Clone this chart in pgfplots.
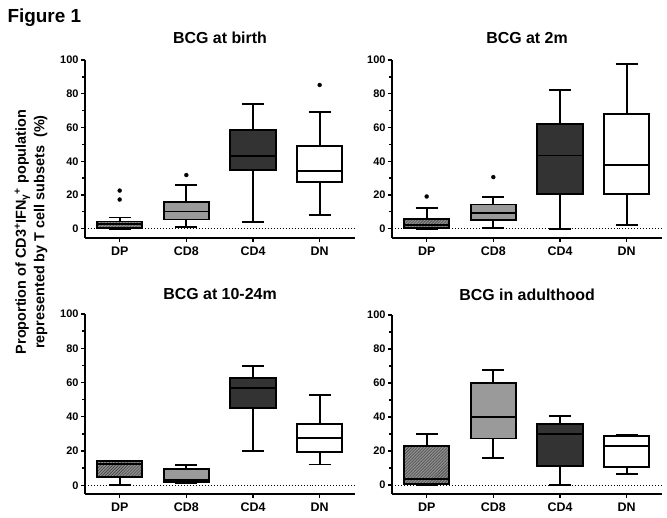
\documentclass[border=0pt]{standalone}
\usepackage{fontspec}
\setmainfont{Liberation Sans}
\usepackage{pgfplots}
\pgfplotsset{compat=1.18}
\usepgfplotslibrary{statistics}
\usetikzlibrary{patterns}

\definecolor{cdeight}{HTML}{9A9A9A}
\definecolor{cdfour}{HTML}{333333}
\definecolor{dpfill}{HTML}{8E8E8E}

\pgfplotsset{
  panel/.style={
    scale only axis, width=270bp, height=#1,
    xmin=-0.52, xmax=3.53, ymin=-5.5, ymax=100,
    axis x line=bottom, axis y line=left,
    axis line style={-, line width=1.7pt, black},
    xtick={0,1,2,3}, xticklabels={DP,CD8,CD4,DN},
    ytick={0,20,...,100}, minor y tick num=1,
    tick align=outside, major tick length=4bp, minor tick length=3bp,
    tick style={line width=1.3pt, black},
    x tick label style={font=\bfseries\fontsize{12.5}{12.5}\selectfont, yshift=-1bp},
    y tick label style={font=\bfseries\fontsize{11}{11}\selectfont, xshift=1bp},
    /pgf/number format/assume math mode=true,
    title style={at={(0.5,1)}, anchor=base, font=\bfseries\fontsize{16}{16}\selectfont},
    clip=false,
  },
  bx/.style={boxplot prepared={draw direction=y, box extend=0.68, whisker extend=0.33, #1},
    draw=black, line width=1.8pt, solid, mark=*, mark size=2pt,
    mark options={fill=black, draw=black, line width=0.3pt},
    /pgfplots/boxplot/every median/.style={line width=1.8pt, draw=black},
    /pgfplots/boxplot/every whisker/.style={line width=1.8pt, draw=black}},
  dp/.style={/pgfplots/boxplot/every box/.style={line width=1.8pt, draw=black, fill=dpfill, postaction={pattern=north east lines, pattern color=black!80}}},
  ceight/.style={/pgfplots/boxplot/every box/.style={line width=1.8pt, draw=black, fill=cdeight}},
  cfour/.style={/pgfplots/boxplot/every box/.style={line width=1.8pt, draw=black, fill=cdfour}},
  dn/.style={/pgfplots/boxplot/every box/.style={line width=1.8pt, draw=black, fill=white}},
  zeroline/.style={black, line width=0.9pt, dash pattern=on 0.9pt off 2.1pt},
}

\begin{document}
\begin{tikzpicture}
\useasboundingbox (0,0) rectangle (667bp,-518bp);

\node[anchor=base west, font=\bfseries\fontsize{19}{19}\selectfont] at (4bp,-22bp) {Figure 1};

\node[rotate=90, align=center, font=\bfseries\fontsize{14.5}{18.5}\selectfont] at (31bp,-232bp)
  {Proportion of CD3\textsuperscript{+}IFN\textsubscript{γ}\textsuperscript{+} population\\represented by T cell subsets\ \ (\%)};

% ---- BCG at birth
\begin{axis}[panel=178bp, at={(85bp,-238bp)}, anchor=south west,
  title={BCG at birth}, title style={yshift=11bp}]
\addplot[zeroline] coordinates {(-0.47,0) (3.53,0)};
\addplot[bx={draw position=0, lower whisker=0, lower quartile=0.2, median=2.7, upper quartile=4.3, upper whisker=6.7}, dp]
  table[row sep=\\, y index=0] {17.3\\ 22.6\\};
\addplot[bx={draw position=1, lower whisker=0.8, lower quartile=5.5, median=10.2, upper quartile=16, upper whisker=26}, ceight]
  table[row sep=\\, y index=0] {31.8\\};
\addplot[bx={draw position=2, lower whisker=4, lower quartile=35, median=43, upper quartile=58.5, upper whisker=74}, cfour]
  coordinates {};
\addplot[bx={draw position=3, lower whisker=8.2, lower quartile=27.7, median=34.4, upper quartile=49.2, upper whisker=69.3}, dn]
  table[row sep=\\, y index=0] {85.2\\};
\end{axis}

% ---- BCG at 2m
\begin{axis}[panel=178bp, at={(392bp,-238bp)}, anchor=south west,
  title={BCG at 2m}, title style={yshift=11bp}]
\addplot[zeroline] coordinates {(-0.47,0) (3.53,0)};
\addplot[bx={draw position=0, lower whisker=0, lower quartile=0.3, median=2, upper quartile=5.7, upper whisker=12.5}, dp]
  table[row sep=\\, y index=0] {19.1\\};
\addplot[bx={draw position=1, lower whisker=0.6, lower quartile=5, median=9.5, upper quartile=14.3, upper whisker=18.6}, ceight]
  table[row sep=\\, y index=0] {30.6\\};
\addplot[bx={draw position=2, lower whisker=0, lower quartile=20.8, median=43.4, upper quartile=62, upper whisker=82.4}, cfour]
  coordinates {};
\addplot[bx={draw position=3, lower whisker=2, lower quartile=20.6, median=37.6, upper quartile=68, upper whisker=97.4}, dn]
  coordinates {};
\end{axis}

% ---- BCG at 10-24m
\begin{axis}[panel=180bp, at={(85bp,-494bp)}, anchor=south west,
  title={BCG at 10-24m}, title style={yshift=9bp}, ymin=-5.1]
\addplot[zeroline] coordinates {(-0.47,0) (3.53,0)};
\addplot[bx={draw position=0, lower whisker=0, lower quartile=4.7, median=12.5, upper quartile=14.1, upper whisker=14.5}, dp]
  coordinates {};
\addplot[bx={draw position=1, lower whisker=1.3, lower quartile=2, median=3.2, upper quartile=9.6, upper whisker=11.7}, ceight]
  coordinates {};
\addplot[bx={draw position=2, lower whisker=20, lower quartile=45, median=56.6, upper quartile=62.7, upper whisker=69.7}, cfour]
  coordinates {};
\addplot[bx={draw position=3, lower whisker=12.1, lower quartile=19.4, median=27.6, upper quartile=35.8, upper whisker=52.7}, dn]
  coordinates {};
\end{axis}

% ---- BCG in adulthood
\begin{axis}[panel=179bp, at={(392bp,-494bp)}, anchor=south west,
  title={BCG in adulthood}, title style={yshift=9bp}, ymin=-5.3]
\addplot[zeroline] coordinates {(-0.47,0) (3.53,0)};
\addplot[bx={draw position=0, lower whisker=0, lower quartile=0.4, median=3.7, upper quartile=23, upper whisker=29.8}, dp]
  coordinates {};
\addplot[bx={draw position=1, lower whisker=16, lower quartile=27.4, median=39.8, upper quartile=60, upper whisker=67.5}, ceight]
  coordinates {};
\addplot[bx={draw position=2, lower whisker=0, lower quartile=11, median=30, upper quartile=36, upper whisker=40.7}, cfour]
  coordinates {};
\addplot[bx={draw position=3, lower whisker=6.3, lower quartile=10.8, median=23.1, upper quartile=28.8, upper whisker=29.2}, dn]
  coordinates {};
\end{axis}
\end{tikzpicture}
\end{document}
